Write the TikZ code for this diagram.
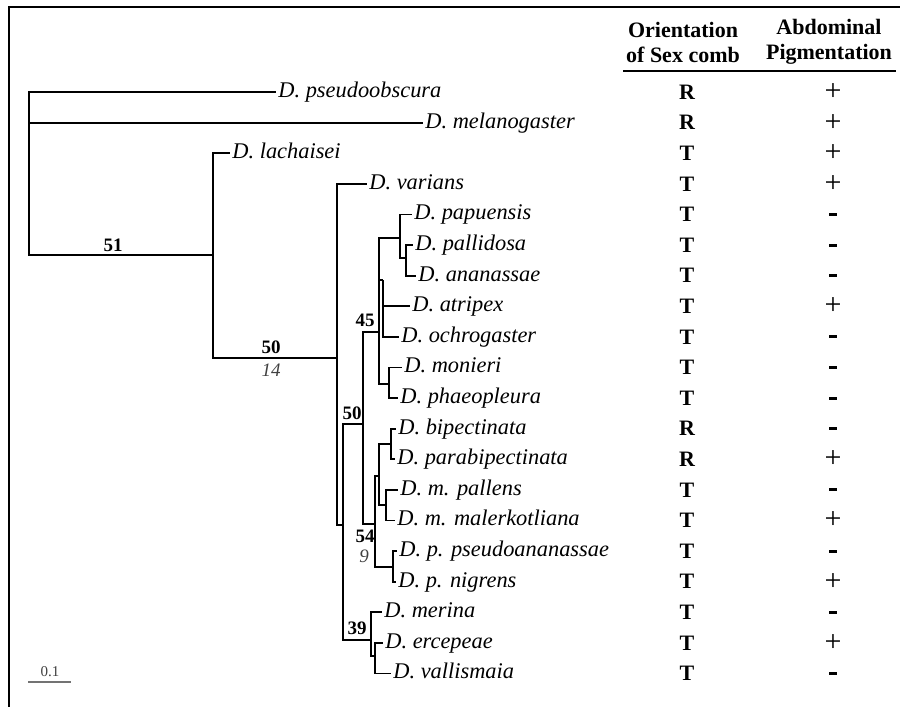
\documentclass[tikz,border=0pt]{standalone}
\usepackage{fontspec}
\setmainfont{Liberation Serif}
\newcommand{\nminus}{\rule{3.6pt}{1.5pt}}
\newcommand{\nplus}{{\fontsize{15}{15}\selectfont +}}

\begin{document}
\begin{tikzpicture}[
  x=0.5pt, y=-0.5pt,
  sp/.style={anchor=west, inner sep=1pt, text height=1.2ex, text depth=0pt,
             font=\fontsize{11.2}{13}\selectfont\itshape},
  br/.style={line width=0.9pt},
  bs/.style={inner sep=0pt, font=\fontsize{9.5}{11}\selectfont\bfseries},
  bsi/.style={inner sep=0pt, text=black!75, font=\fontsize{9.5}{11}\selectfont\itshape},
  hd/.style={align=center, inner sep=0pt, font=\fontsize{11}{12.5}\selectfont\bfseries},
  ori/.style={inner sep=0pt, font=\fontsize{11}{12}\selectfont\bfseries},
  pig/.style={inner sep=0pt}
]
\useasboundingbox (0,0) rectangle (900,707);
% frame
\coordinate (fl) at (9,707);
\coordinate (tl) at (9,7);
\coordinate (tr) at (900,7);
\draw[line width=1.1pt] (fl) -- (tl) -- (tr);

% species
\node[sp] (pse)  at (276,92)    {D. pseudoobscura};
\node[sp] (mel)  at (423,122.6) {D. melanogaster};
\node[sp] (lac)  at (230,153.2) {D. lachaisei};
\node[sp] (var)  at (367,183.8) {D. varians};
\node[sp] (pap)  at (412,214.4) {D. papuensis};
\node[sp] (pal)  at (413,245)   {D. pallidosa};
\node[sp] (ana)  at (416,275.6) {D. ananassae};
\node[sp] (atr)  at (410,306.2) {D. atripex};
\node[sp] (och)  at (399,336.8) {D. ochrogaster};
\node[sp] (mon)  at (402,367.4) {D. monieri};
\node[sp] (pha)  at (398,398)   {D. phaeopleura};
\node[sp] (bip)  at (396,428.6) {D. bipectinata};
\node[sp] (par)  at (395,459.2) {D. parabipectinata};
\node[sp] (pall) at (398,489.8) {D. m. pallens};
\node[sp] (mal)  at (395,520.4) {D. m. malerkotliana};
\node[sp] (pps)  at (397,551)   {D. p. pseudoananassae};
\node[sp] (nig)  at (396,581.6) {D. p. nigrens};
\node[sp] (mer)  at (382,612.2) {D. merina};
\node[sp] (erc)  at (383,642.8) {D. ercepeae};
\node[sp] (vals) at (391,673.4) {D. vallismaia};

% internal nodes
\coordinate (r)   at (29,170);
\coordinate (na)  at (213,255);
\coordinate (nb)  at (337,358);
\coordinate (nc)  at (343,525);
\coordinate (nd)  at (363,424);
\coordinate (n45) at (379,332);
\coordinate (ne)  at (400,238);
\coordinate (nh)  at (406,258);
\coordinate (nf)  at (383,280);
\coordinate (ng)  at (389,384);
\coordinate (n54) at (375,524);
\coordinate (ni)  at (379,476);
\coordinate (nk)  at (391,444);
\coordinate (nl)  at (386,505);
\coordinate (nj)  at (393,567);
\coordinate (n39) at (371,640);
\coordinate (nm)  at (375,656);

% branches
\draw[br] (r) |- (pse.west) (r) |- (mel.west) (r) |- (na);
\draw[br] (na) |- (lac.west) (na) |- (nb);
\draw[br] (nb) |- (var.west) (nb) |- (nc);
\draw[br] (nc) |- (nd) (nc) |- (n39);
\draw[br] (nd) |- (n45) (nd) |- (n54);
\draw[br] (n45) |- (ne) (n45) |- (nf) (n45) |- (ng);
\draw[br] (ne) |- (pap.west) (ne) |- (nh);
\draw[br] (nh) |- (pal.west) (nh) |- (ana.west);
\draw[br] (nf) |- (atr.west) (nf) |- (och.west);
\draw[br] (ng) |- (mon.west) (ng) |- (pha.west);
\draw[br] (n54) |- (ni) (n54) |- (nj);
\draw[br] (ni) |- (nk) (ni) |- (nl);
\draw[br] (nk) |- (bip.west) (nk) |- (par.west);
\draw[br] (nl) |- (pall.west) (nl) |- (mal.west);
\draw[br] (nj) |- (pps.west) (nj) |- (nig.west);
\draw[br] (n39) |- (mer.west) (n39) |- (nm);
\draw[br] (nm) |- (erc.west) (nm) |- (vals.west);

% support values
\node[bs]  (b51) at (113,245) {51};
\node[bs]  (b50) at (271,347) {50};
\node[bsi] (i14) at (271,370) {14};
\node[bs]  (b45) at (365,320) {45};
\node[bs]  (b50b) at (352,413) {50};
\node[bs]  (b54) at (365,536) {54};
\node[bsi] (i9)  at (364,556) {9};
\node[bs]  (b39) at (357,628) {39};

% scale
\coordinate (s0) at (28,682);
\coordinate (s1) at (71,682);
\draw[black!55, line width=0.7pt] (s0) -- (s1);
\node[inner sep=0pt, text=black!75, font=\fontsize{7.5}{9}\selectfont] (sc) at (50,672) {0.1};

% table
\node[hd] (hsex) at (683,42) {Orientation\\of Sex comb};
\node[hd] (hpig) at (829,42) {Abdominal\\Pigmentation};
\draw[line width=1.3pt] (623,71) -- (896,71);
\foreach \o/\p [count=\i] in {R/\nplus,R/\nplus,T/\nplus,T/\nplus,T/\nminus,T/\nminus,T/\nminus,
    T/\nplus,T/\nminus,T/\nminus,T/\nminus,R/\nminus,R/\nplus,T/\nminus,T/\nplus,T/\nminus,
    T/\nplus,T/\nminus,T/\nplus,T/\nminus}{
  \node[ori] (o\i) at (687,{92+30.6*(\i-1)}) {\o};
  \node[pig] (p\i) at (833,{92+30.6*(\i-1)}) {\p};
}
\end{tikzpicture}
\end{document}
